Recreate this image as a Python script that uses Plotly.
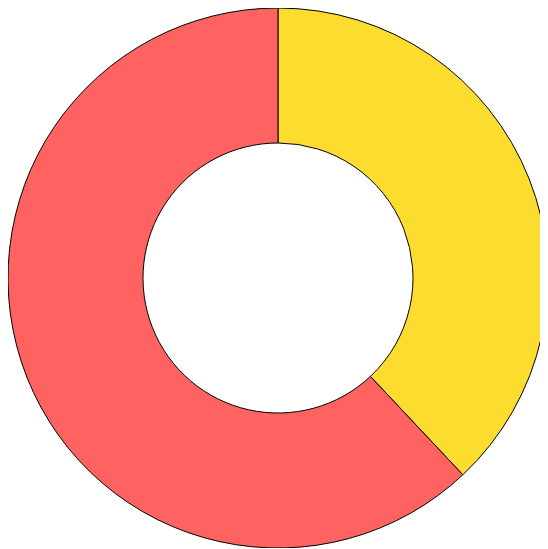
import plotly.graph_objects as go

labels = ["A", "B"]
values = [38, 62]
colors = ["#FDDC30", "#FF6361"]

fig = go.Figure(go.Pie(
    labels=labels, values=values, hole=0.5, sort=False, direction="clockwise",
    rotation=0, textinfo="none", hoverinfo="label+percent",
    marker=dict(colors=colors, line=dict(color="#000000", width=1)),
))
fig.update_layout(width=540, height=540, showlegend=False,
                  margin=dict(l=0, r=0, t=0, b=0),
                  paper_bgcolor="white", plot_bgcolor="white")
fig.write_html("out.html")
